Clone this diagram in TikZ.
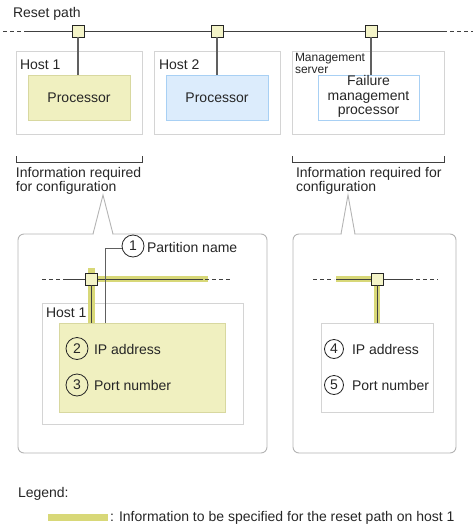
\documentclass[tikz,border=0pt]{standalone}
\usepackage{fontspec}
\setmainfont{Liberation Sans}
\definecolor{linegray}{HTML}{404040}
\definecolor{conngray}{HTML}{606060}
\definecolor{hostgray}{HTML}{D4D4D4}
\definecolor{bubblegray}{HTML}{B4B4B4}
\definecolor{procyellow}{HTML}{F0F0C0}
\definecolor{procyellowb}{HTML}{D8D8A0}
\definecolor{procblue}{HTML}{DCECFC}
\definecolor{procblueb}{HTML}{A8D0F4}
\definecolor{hilite}{HTML}{D8D878}
\definecolor{sqfill}{HTML}{F4F4C8}
\begin{document}
\begin{tikzpicture}[x=1pt,y=-1pt,
  font=\fontsize{14}{14.5}\selectfont,
  txt/.style={inner sep=0pt, outer sep=0pt, text=black!85},
  hostbox/.style={draw=hostgray, line width=0.9pt, anchor=north west, inner sep=0pt, outer sep=0pt},
  procbox/.style={anchor=north west, inner sep=0pt, outer sep=0pt, line width=0.9pt},
  sqnode/.style={draw=black!85, fill=sqfill, line width=0.9pt, minimum size=12pt, inner sep=0pt, outer sep=0pt},
  mainline/.style={draw=linegray, line width=0.9pt},
  dashline/.style={draw=linegray, line width=0.9pt, dash pattern=on 4pt off 3pt},
  conn/.style={draw=conngray, line width=1.4pt},
  hiband/.style={draw=hilite, line width=6.5pt},
  bubble/.style={draw=bubblegray, line width=0.9pt, rounded corners=6pt, fill=white},
  numcirc/.style={circle, draw=black!85, line width=0.8pt, inner sep=0pt, outer sep=0pt, text=black!85},
]
\useasboundingbox (0,0) rectangle (473,528);

% ---------------- top row ----------------
\node[txt, anchor=base west] (rp) at (13,17.5) {Reset path};

\node[hostbox, minimum width=126pt, minimum height=83pt] (h1) at (16,51) {};
\node[txt, anchor=base west] (h1t) at (20,69) {Host 1};
\node[procbox, draw=procyellowb, fill=procyellow, minimum width=102pt, minimum height=45pt] (p1) at (28,75) {};
\node[txt] (p1t) at (p1.center) {Processor};

\node[hostbox, minimum width=126pt, minimum height=83pt] (h2) at (154,51) {};
\node[txt, anchor=base west] (h2t) at (159,69) {Host 2};
\node[procbox, draw=procblueb, fill=procblue, minimum width=102pt, minimum height=45pt] (p2) at (166,75) {};
\node[txt] (p2t) at (p2.center) {Processor};

\node[hostbox, minimum width=152pt, minimum height=83pt] (ms) at (292,51) {};
\node[txt, anchor=north west, align=left, font=\fontsize{12}{11.5}\selectfont] (mst) at (295,53.5) {Management\\server};
\node[procbox, draw=procblueb, fill=white, minimum width=101pt, minimum height=45pt] (fm) at (318,75) {};
\node[txt, align=center] (fmt) at ([yshift=1pt]fm.center) {Failure\\management\\processor};

\coordinate (tl0) at (3,31);
\coordinate (tl1) at (27,31);
\coordinate (tr1) at (443,31);
\coordinate (tr0) at (473,31);
\draw[dashline] (tl0) -- (tl1);
\draw[mainline] (tl1) -- (tr1);
\draw[dashline] (tr1) -- (tr0);

\node[sqnode] (s1) at (78,31) {};
\node[sqnode] (s2) at (217,31) {};
\node[sqnode] (s3) at (371,31) {};
\draw[conn] (s1.south) -- (s1.south |- p1.north);
\draw[conn] (s2.south) -- (s2.south |- p2.north);
\draw[conn] (s3.south) -- (s3.south |- fm.north);

% brackets
\draw[linegray, line width=0.9pt] (16,156) -- (16,162) -- (142,162) -- (142,156);
\draw[linegray, line width=0.9pt] (292,156) -- (292,162) -- (444,162) -- (444,156);
\node[txt, anchor=base west] (i1a) at (16,177) {Information required};
\node[txt, anchor=base west] (i1b) at (16,191.5) {for configuration};
\node[txt, anchor=base west] (i2a) at (296,177) {Information required for};
\node[txt, anchor=base west] (i2b) at (296,191.5) {configuration};

% ---------------- bubbles ----------------
\draw[bubble] (18,234) rectangle (267,453);
\fill[white] (93.5,235) -- (103,195) -- (112.5,235) -- cycle;
\draw[bubblegray, line width=0.9pt] (93,234) -- (103,195) -- (113,234);

\draw[bubble] (293,234) rectangle (456,453);
\fill[white] (341.5,235) -- (348,195) -- (354.5,235) -- cycle;
\draw[bubblegray, line width=0.9pt] (341,234) -- (348,195) -- (355,234);

% ---------------- left bubble content ----------------
\node[hostbox, minimum width=201pt, minimum height=121pt] (h1i) at (42,303) {};
\node[txt, anchor=base west] (h1it) at (46,317) {Host 1};
\node[procbox, draw=procyellowb, fill=procyellow, minimum width=166pt, minimum height=89pt] (p1i) at (59,323) {};

\coordinate (la0) at (42,279);
\coordinate (la1) at (67,279);
\coordinate (lb1) at (203,279);
\coordinate (lb0) at (230,279);
\coordinate (lhe) at (208,279);
\coordinate (lvt) at (91.5,268);

\draw[hiband] (91.5,279) -- (lhe);
\draw[hiband] (lvt) -- (lvt |- p1i.north);
\draw[dashline] (la0) -- (la1);
\draw[mainline] (la1) -- (lb1);
\draw[dashline] ([xshift=2pt]lb1) -- (lb0);
\node[sqnode] (s4) at (91.5,279) {};
\draw[mainline] (s4.south) -- (s4.south |- p1i.north);

\node[numcirc, minimum size=22pt] (c1) at (133,246) {1};
\node[txt, anchor=base west] (c1t) at (147,252) {Partition name};
\coordinate (ldk) at (105,248);
\draw[conngray, line width=1pt] (ldk |- p1i.north) -- (ldk) -- (ldk -| c1.west);

\node[numcirc, minimum size=22pt] (c2) at (77,348.5) {2};
\node[txt, anchor=base west] (c2t) at (94,354) {IP address};
\node[numcirc, minimum size=22pt] (c3) at (77,385) {3};
\node[txt, anchor=base west] (c3t) at (94,390) {Port number};

% ---------------- right bubble content ----------------
\node[procbox, draw=hostgray, fill=white, minimum width=112pt, minimum height=89pt] (mb) at (321,323) {};

\coordinate (ra0) at (313,279);
\coordinate (ra1) at (336,279);
\coordinate (rb1) at (409,279);
\coordinate (rb0) at (438,279);

\draw[dashline] (ra0) -- ([xshift=-2pt]ra1);
\draw[hiband] (ra1) -- (377,279);
\draw[hiband] (377,279) -- (377,323);
\draw[mainline] (ra1) -- (rb1);
\draw[dashline] (rb1) -- (rb0);
\node[sqnode] (s5) at (377,279) {};
\draw[mainline] (s5.south) -- (s5.south |- mb.north);

\node[numcirc, minimum size=19pt] (c4) at (334,349) {4};
\node[txt, anchor=base west] (c4t) at (352,354) {IP address};
\node[numcirc, minimum size=19pt] (c5) at (334,385) {5};
\node[txt, anchor=base west] (c5t) at (352,390) {Port number};

% ---------------- legend ----------------
\node[txt, anchor=base west] (lg) at (18,497) {Legend:};
\coordinate (lgb0) at (48,517.5);
\coordinate (lgb1) at (108,517.5);
\draw[hiband] (lgb0) -- (lgb1);
\node[txt, anchor=base west] (lgt) at (110,521.5) {: Information to be specified for the reset path on host 1};
\end{tikzpicture}
\end{document}
